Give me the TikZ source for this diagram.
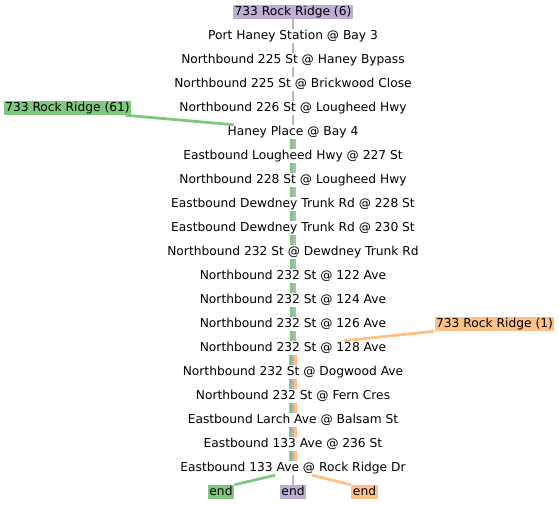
\documentclass[tikz,border=0pt]{standalone}
\usepackage{fontspec}
\setmainfont{DejaVu Sans}
\definecolor{cg}{HTML}{7FC97F}
\definecolor{cp}{HTML}{BEAED4}
\definecolor{co}{HTML}{FDC086}
\begin{document}
\begin{tikzpicture}[x=1pt,y=-1pt,font=\fontsize{12.25}{14}\selectfont,
  stop/.style={inner xsep=1.6pt,inner ysep=0pt,text height=10.7pt,text depth=3.3pt},
  tagbox/.style={stop,fill=#1},
  ln/.style={line width=2.8pt,draw=#1}]
\useasboundingbox (0,0) rectangle (559,504);
\node[tagbox=cp] (n0) at (293,12) {733 Rock Ridge (6)};
\foreach \k/\t in {1/Port Haney Station @ Bay 3,
  2/Northbound 225 St @ Haney Bypass,
  3/Northbound 225 St @ Brickwood Close,
  4/Northbound 226 St @ Lougheed Hwy,
  5/Haney Place @ Bay 4,
  6/Eastbound Lougheed Hwy @ 227 St,
  7/Northbound 228 St @ Lougheed Hwy,
  8/Eastbound Dewdney Trunk Rd @ 228 St,
  9/Eastbound Dewdney Trunk Rd @ 230 St,
  10/Northbound 232 St @ Dewdney Trunk Rd,
  11/Northbound 232 St @ 122 Ave,
  12/Northbound 232 St @ 124 Ave,
  13/Northbound 232 St @ 126 Ave,
  14/Northbound 232 St @ 128 Ave,
  15/Northbound 232 St @ Dogwood Ave,
  16/Northbound 232 St @ Fern Cres,
  17/Eastbound Larch Ave @ Balsam St,
  18/Eastbound 133 Ave @ 236 St,
  19/Eastbound 133 Ave @ Rock Ridge Dr}
  \node[stop] (n\k) at (293,12+24*\k) {\t};
\node[tagbox=cg] (g0) at (67.5,108) {733 Rock Ridge (61)};
\node[tagbox=co] (o0) at (494.5,324) {733 Rock Ridge (1)};
\node[tagbox=cg] (e1) at (221,492) {end};
\node[tagbox=cp] (e2) at (293,492) {end};
\node[tagbox=co] (e3) at (364.5,492) {end};
% purple only
\foreach \k in {0,...,4}{
  \pgfmathtruncatemacro\j{\k+1}
  \draw[ln=cp] (n\k.south) -- (n\j.north);
}
% green + purple
\foreach \k in {5,...,13}{
  \pgfmathtruncatemacro\j{\k+1}
  \draw[ln=cg] ([xshift=-1.4pt]n\k.south) -- ([xshift=-1.4pt]n\j.north);
  \draw[ln=cp] ([xshift=1.4pt]n\k.south) -- ([xshift=1.4pt]n\j.north);
}
% green + purple + orange
\foreach \k in {14,...,18}{
  \pgfmathtruncatemacro\j{\k+1}
  \draw[ln=cg] ([xshift=-2.8pt]n\k.south) -- ([xshift=-2.8pt]n\j.north);
  \draw[ln=cp] (n\k.south) -- (n\j.north);
  \draw[ln=co] ([xshift=2.8pt]n\k.south) -- ([xshift=2.8pt]n\j.north);
}
\draw[ln=cg] ([xshift=-6pt]g0.south east) -- ([xshift=8pt]n5.north west);
\draw[ln=co] (o0.south west) -- ([xshift=51pt]n14.north);
\draw[ln=cg] ([xshift=-18pt]n19.south) -- (e1.north east);
\draw[ln=cp] (n19.south) -- (e2.north);
\draw[ln=co] ([xshift=19pt]n19.south) -- (e3.north west);
\end{tikzpicture}
\end{document}
